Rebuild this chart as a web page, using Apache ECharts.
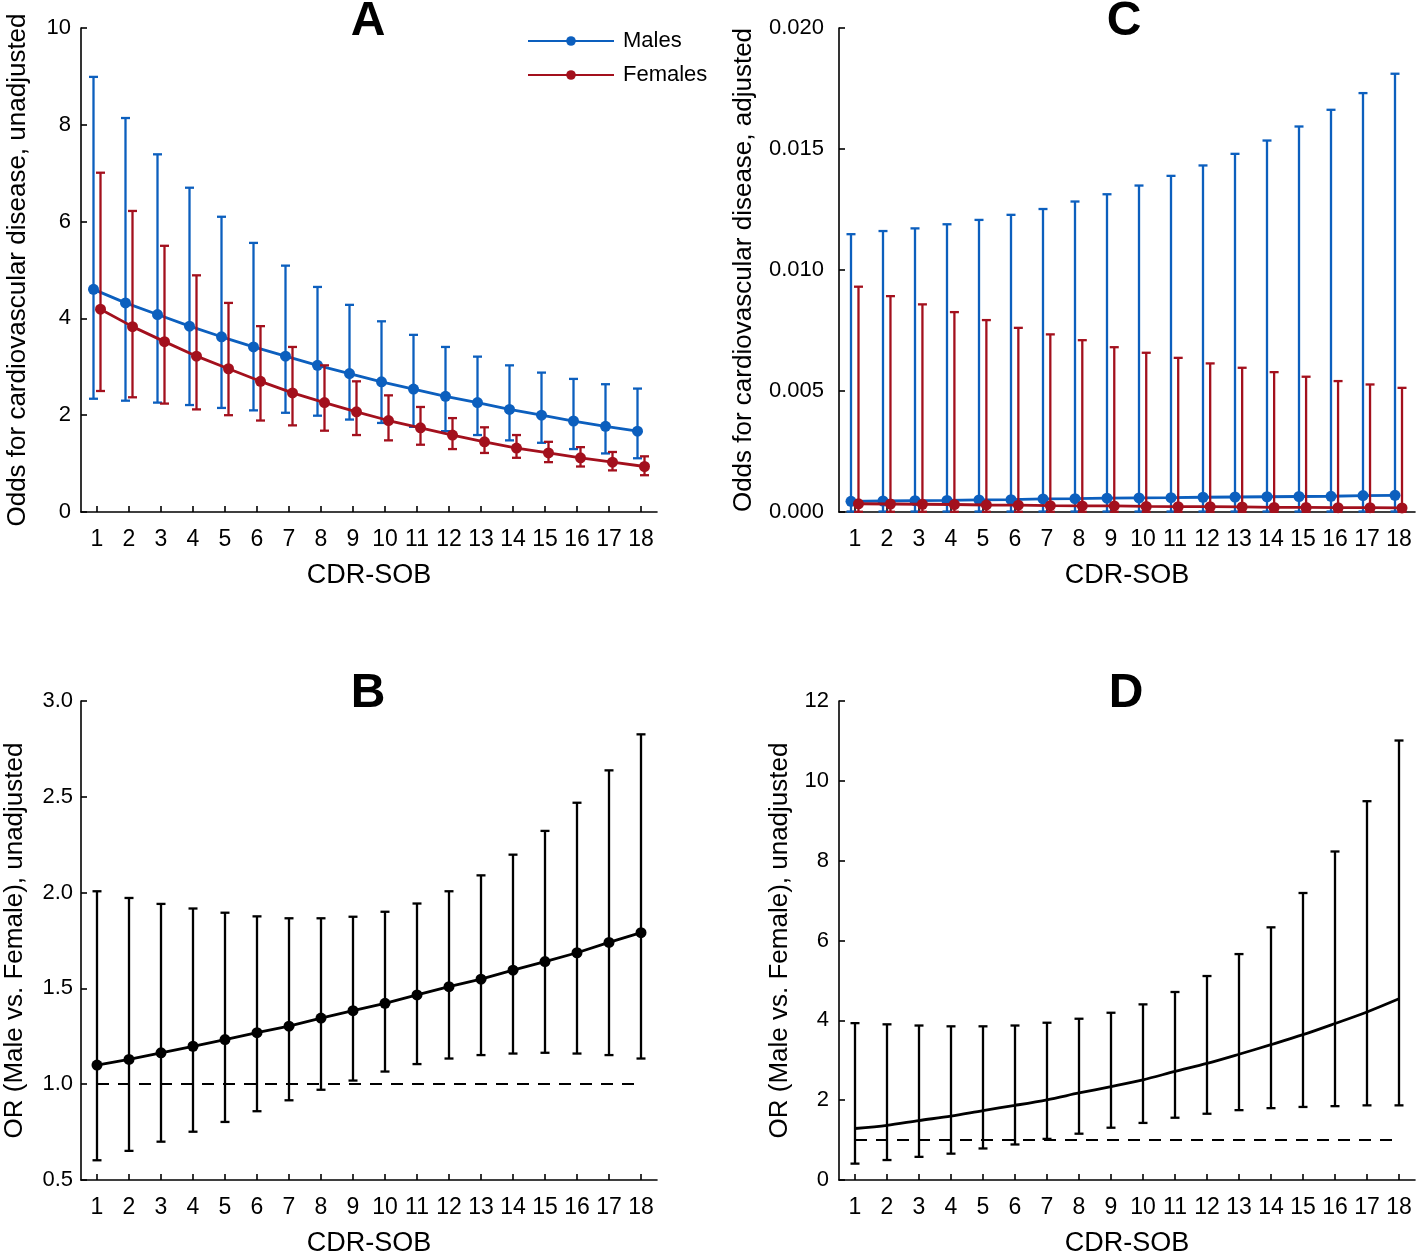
<!DOCTYPE html>
<html>
<head>
<meta charset="utf-8">
<script src="https://cdn.jsdelivr.net/npm/echarts@6/dist/echarts.min.js"></script>
<style>
  html, body { margin: 0; padding: 0; background: #fff; }
  #chart { width: 1418px; height: 1258px; }
</style>
</head>
<body>
<div id="chart"></div>
<script>
// ---------- Data ----------
const cdrSob = ['1','2','3','4','5','6','7','8','9','10','11','12','13','14','15','16','17','18'];

// Panel A: odds, unadjusted
const maleOddsUnadj   = [4.60,4.32,4.08,3.84,3.62,3.41,3.22,3.03,2.86,2.69,2.54,2.39,2.26,2.12,2.00,1.88,1.77,1.67];
const maleUpperUnadj  = [8.99,8.14,7.39,6.70,6.10,5.56,5.09,4.65,4.28,3.94,3.66,3.41,3.21,3.03,2.88,2.75,2.64,2.55];
const maleLowerUnadj  = [2.34,2.30,2.26,2.21,2.15,2.10,2.05,1.99,1.91,1.84,1.76,1.67,1.59,1.48,1.43,1.30,1.21,1.11];
const femaleOddsUnadj  = [4.19,3.83,3.52,3.22,2.96,2.70,2.46,2.26,2.07,1.89,1.74,1.59,1.45,1.32,1.22,1.12,1.03,0.94];
const femaleUpperUnadj = [7.01,6.22,5.50,4.89,4.32,3.84,3.41,3.03,2.70,2.41,2.17,1.94,1.75,1.59,1.45,1.34,1.24,1.15];
const femaleLowerUnadj = [2.50,2.37,2.24,2.12,2.00,1.89,1.79,1.68,1.59,1.48,1.39,1.30,1.22,1.12,1.03,0.94,0.86,0.76];

// Panel C: odds, adjusted
const maleOddsAdj   = [0.00044,0.000455,0.00047,0.00048,0.00050,0.00051,0.00054,0.00055,0.00057,0.00058,0.00059,0.00061,0.00062,0.00063,0.00064,0.00065,0.00068,0.00069];
const maleUpperAdj  = [0.01148,0.01161,0.01172,0.01189,0.01207,0.01228,0.01252,0.01283,0.01313,0.01349,0.01389,0.01432,0.01480,0.01535,0.01593,0.01662,0.01731,0.01811];
const maleLowerAdj  = [0.00002,0.00002,0.00002,0.00002,0.00002,0.00002,0.00002,0.00002,0.00002,0.00002,0.00002,0.00002,0.00002,0.00002,0.00002,0.00002,0.00002,0.00002];
const femaleOddsAdj  = [0.00034,0.00033,0.00032,0.00031,0.00029,0.00028,0.00026,0.00025,0.00025,0.00023,0.00022,0.00022,0.00021,0.00019,0.00019,0.00018,0.00018,0.00017];
const femaleUpperAdj = [0.00931,0.00892,0.00858,0.00826,0.00793,0.00761,0.00734,0.00710,0.00681,0.00658,0.00637,0.00614,0.00596,0.00578,0.00559,0.00541,0.00527,0.00513];
const femaleLowerAdj = [0.00001,0.00001,0.00001,0.00001,0.00001,0.00001,0.00001,0.00001,0.00001,0.00001,0.00001,0.00001,0.00001,0.00001,0.00001,0.00001,0.00001,0.00001];

// Panel B: OR (male vs female), with markers
const orB      = [1.100,1.129,1.164,1.198,1.233,1.269,1.303,1.345,1.384,1.422,1.466,1.509,1.548,1.595,1.640,1.686,1.740,1.791];
const orBUpper = [2.007,1.972,1.941,1.917,1.895,1.876,1.866,1.866,1.874,1.900,1.943,2.007,2.090,2.198,2.322,2.469,2.638,2.826];
const orBLower = [0.603,0.652,0.700,0.752,0.803,0.859,0.916,0.971,1.019,1.066,1.105,1.134,1.152,1.160,1.164,1.160,1.152,1.134];

// Panel D: OR (male vs female), line only
const orD      = [1.29,1.37,1.49,1.60,1.74,1.87,2.01,2.18,2.34,2.51,2.72,2.92,3.15,3.39,3.64,3.92,4.21,4.54];
const orDUpper = [3.93,3.90,3.87,3.85,3.85,3.87,3.94,4.04,4.19,4.40,4.71,5.11,5.66,6.33,7.19,8.23,9.49,11.01];
const orDLower = [0.41,0.50,0.58,0.66,0.79,0.89,1.03,1.16,1.31,1.43,1.56,1.66,1.75,1.80,1.83,1.85,1.87,1.87];

const refValue = 1.0;

// Axis tick settings
const yTicksA = {min: 0, max: 10, interval: 2};
const yTicksC = {min: 0, max: 0.02, interval: 0.005};
const yTicksB = {min: 0.5, max: 3.0, interval: 0.5};
const yTicksD = {min: 0, max: 12, interval: 2};

// ---------- Styling ----------
const FONT = 'Liberation Sans, Arial, Helvetica, sans-serif';
const BLUE = '#0c5fbe';
const RED = '#a3101d';
const BLACK = '#000000';

const chart = echarts.init(document.getElementById('chart'), null, {renderer: 'canvas'});

const W = 576, H = 484;
const grids = [
  {left: 81,  top: 28,  width: W, height: H},   // 0 A visible
  {left: 839, top: 28,  width: W, height: H},   // 1 C visible
  {left: 81,  top: 701, width: W, height: H},   // 2 B
  {left: 839, top: 701, width: W, height: H},   // 3 D
  {left: 81 - 3.5,  top: 28, width: W, height: H}, // 4 A males (dodged)
  {left: 81 + 3.5,  top: 28, width: W, height: H}, // 5 A females
  {left: 839 - 4,   top: 28, width: W, height: H}, // 6 C males
  {left: 839 + 3.5, top: 28, width: W, height: H}  // 7 C females
];

function visibleX(gi) {
  return {
    type: 'category', gridIndex: gi, data: cdrSob, boundaryGap: true,
    axisLine: {show: true, lineStyle: {color: BLACK, width: 1.6}},
    axisTick: {show: true, alignWithLabel: true, inside: true, length: 6, lineStyle: {color: BLACK, width: 1.6}},
    axisLabel: {show: true, interval: 0, color: BLACK, fontSize: 23, fontFamily: FONT, margin: 16},
    splitLine: {show: false},
    name: 'CDR-SOB', nameLocation: 'middle', nameGap: 50,
    nameTextStyle: {color: BLACK, fontSize: 27, fontFamily: FONT}
  };
}
function hiddenX(gi) {
  return {type: 'category', gridIndex: gi, data: cdrSob, boundaryGap: true, show: false};
}
function visibleY(gi, ticks, name, gap, margin, fmt) {
  return {
    type: 'value', gridIndex: gi, min: ticks.min, max: ticks.max, interval: ticks.interval,
    axisLine: {show: true, lineStyle: {color: BLACK, width: 1.6}},
    axisTick: {show: true, inside: true, length: 6, lineStyle: {color: BLACK, width: 1.6}},
    axisLabel: {color: BLACK, fontSize: 22, fontFamily: FONT, margin: margin, formatter: fmt},
    splitLine: {show: false},
    name: name, nameLocation: 'middle', nameGap: gap, nameRotate: 90,
    nameTextStyle: {color: BLACK, fontSize: 26, fontFamily: FONT}
  };
}
function hiddenY(gi, ticks) {
  return {type: 'value', gridIndex: gi, min: ticks.min, max: ticks.max, show: false, splitLine: {show: false}};
}

function errorBarRender(color, width, cap) {
  return function (params, api) {
    const x = api.value(0), lo = api.value(1), hi = api.value(2);
    const pLo = api.coord([x, lo]);
    const pHi = api.coord([x, hi]);
    const style = {stroke: color, lineWidth: width, fill: null};
    return {
      type: 'group',
      children: [
        {type: 'line', shape: {x1: pLo[0], y1: pLo[1], x2: pHi[0], y2: pHi[1]}, style: style},
        {type: 'line', shape: {x1: pHi[0] - cap, y1: pHi[1], x2: pHi[0] + cap, y2: pHi[1]}, style: style},
        {type: 'line', shape: {x1: pLo[0] - cap, y1: pLo[1], x2: pLo[0] + cap, y2: pLo[1]}, style: style}
      ]
    };
  };
}
function errorData(lower, upper) {
  return cdrSob.map((c, i) => [i, lower[i], upper[i]]);
}
function errorSeries(xi, yi, lower, upper, color, z) {
  return {
    type: 'custom', xAxisIndex: xi, yAxisIndex: yi,
    renderItem: errorBarRender(color, 2.3, 4.5),
    encode: {x: 0, y: [1, 2]},
    data: errorData(lower, upper),
    silent: true, z: z, clip: false
  };
}
function lineSeries(name, xi, yi, values, color, withSymbol, z) {
  return {
    name: name, type: 'line', xAxisIndex: xi, yAxisIndex: yi, data: values,
    symbol: withSymbol ? 'circle' : 'none', symbolSize: 11, showSymbol: withSymbol,
    lineStyle: {color: color, width: 2.8},
    itemStyle: {color: color},
    silent: true, z: z, animation: false
  };
}

const titleStyle = {color: BLACK, fontSize: 48, fontWeight: 'bold', fontFamily: FONT};

const option = {
  backgroundColor: '#ffffff',
  animation: false,
  title: [
    {text: 'A', left: 368, top: -2, textAlign: 'center', padding: 0, textStyle: titleStyle},
    {text: 'C', left: 1124, top: -2, textAlign: 'center', padding: 0, textStyle: titleStyle},
    {text: 'B', left: 368, top: 670, textAlign: 'center', padding: 0, textStyle: titleStyle},
    {text: 'D', left: 1126, top: 670, textAlign: 'center', padding: 0, textStyle: titleStyle}
  ],
  legend: {
    orient: 'vertical', left: 522, top: 25, itemWidth: 86, itemHeight: 12, itemGap: 12,
    data: ['Males', 'Females'],
    textStyle: {color: BLACK, fontSize: 22, fontFamily: FONT, padding: [0, 0, 0, 4]}
  },
  grid: grids,
  xAxis: [
    visibleX(0), visibleX(1), visibleX(2), visibleX(3),
    hiddenX(4), hiddenX(5), hiddenX(6), hiddenX(7)
  ],
  yAxis: [
    visibleY(0, yTicksA, 'Odds for cardiovascular disease, unadjusted', 50, 10, v => String(v)),
    visibleY(1, yTicksC, 'Odds for cardiovascular disease, adjusted', 82, 15, v => v.toFixed(3)),
    visibleY(2, yTicksB, 'OR (Male vs. Female), unadjusted', 53, 8, v => v.toFixed(1)),
    visibleY(3, yTicksD, 'OR (Male vs. Female), unadjusted', 46, 10, v => String(v)),
    hiddenY(4, yTicksA), hiddenY(5, yTicksA), hiddenY(6, yTicksC), hiddenY(7, yTicksC)
  ],
  series: [
    // Panel A
    errorSeries(4, 4, maleLowerUnadj, maleUpperUnadj, BLUE, 2),
    lineSeries('Males', 4, 4, maleOddsUnadj, BLUE, true, 3),
    errorSeries(5, 5, femaleLowerUnadj, femaleUpperUnadj, RED, 4),
    lineSeries('Females', 5, 5, femaleOddsUnadj, RED, true, 5),
    // Panel C
    errorSeries(6, 6, maleLowerAdj, maleUpperAdj, BLUE, 2),
    lineSeries('Males', 6, 6, maleOddsAdj, BLUE, true, 3),
    errorSeries(7, 7, femaleLowerAdj, femaleUpperAdj, RED, 4),
    lineSeries('Females', 7, 7, femaleOddsAdj, RED, true, 5),
    // Panel B
    errorSeries(2, 2, orBLower, orBUpper, BLACK, 2),
    Object.assign(lineSeries('OR B', 2, 2, orB, BLACK, true, 3), {
      markLine: {
        silent: true, symbol: 'none', label: {show: false}, animation: false,
        lineStyle: {color: BLACK, width: 2.2, type: [12, 9]},
        data: [[{coord: [cdrSob[0], refValue]}, {coord: [cdrSob[cdrSob.length - 1], refValue]}]]
      }
    }),
    // Panel D
    errorSeries(3, 3, orDLower, orDUpper, BLACK, 2),
    Object.assign(lineSeries('OR D', 3, 3, orD, BLACK, false, 3), {
      smooth: 0.3,
      markLine: {
        silent: true, symbol: 'none', label: {show: false}, animation: false,
        lineStyle: {color: BLACK, width: 2.2, type: [12, 9]},
        data: [[{coord: [cdrSob[0], refValue]}, {coord: [cdrSob[cdrSob.length - 1], refValue]}]]
      }
    })
  ]
};

chart.setOption(option);
</script>
</body>
</html>
